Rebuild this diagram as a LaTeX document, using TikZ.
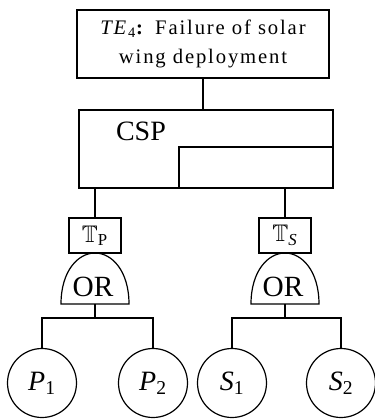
\documentclass[tikz,border=0pt]{standalone}
\usepackage{amssymb}
\usepackage{fontspec}
\setmainfont{Liberation Serif}
\usepackage{tikz}
\tikzset{
  box/.style={draw, line width=0.9pt, inner sep=0pt},
  tbox/.style={box, minimum width=39pt, minimum height=26.25pt, font=\fontsize{18}{20}\selectfont},
  evt/.style={draw, line width=0.9pt, circle, minimum size=51.75pt, inner sep=0pt, font=\fontsize{21}{23}\selectfont},
  orgate/.pic={
    \draw[line width=0.9pt] (-34,51) .. controls (-34,18) and (-17,0) .. (0,0)
      .. controls (17,0) and (34,18) .. (34,51) -- cycle;
    \node[font=\fontsize{22}{24}\selectfont] (-lbl) at (-2,34) {OR};
    \coordinate (-out) at (0,51);
  },
}

\begin{document}
\begin{tikzpicture}[x=0.75pt, y=-0.75pt, line width=0.9pt]
    \useasboundingbox (0,0) rectangle (375,419);
    \node[box, minimum width=189pt, minimum height=51pt, align=center,
      font=\fontsize{15.5}{21.75}\selectfont\addfontfeature{LetterSpace=9}] (te) at (203,44)
      {\textit{TE}\textsubscript{4}\textbf{:}\hspace{0.5em}Failure of solar\\wing deployment};
    \node[box, minimum width=190.5pt, minimum height=58.5pt] (csp) at (206,149) {};
    \node[anchor=base west, font=\fontsize{21}{23}\selectfont] (csplbl) at (111,140) {CSP};
    \node[box, minimum width=115.5pt, minimum height=30.75pt] (cspin) at (256,167.5) {};
    \draw (te.south) -- (te.south |- csp.north);

    \node[tbox] (tp) at (95,235.5) {$\mathbb{T}$\textsubscript{P}};
    \node[tbox] (ts) at (285,235.5) {$\mathbb{T}$\textsubscript{\textit{S}}};
    \draw (tp.north |- csp.south) -- (tp.north);
    \draw (ts.north |- csp.south) -- (ts.north);

    \pic (gp) at (95,253) {orgate};
    \pic (gs) at (285,253) {orgate};

    \node[evt] (p1) at (42,383) {\textit{P}\textsubscript{1}};
    \node[evt] (p2) at (153,383) {\textit{P}\textsubscript{2}};
    \node[evt] (s1) at (232,383) {\textit{S}\textsubscript{1}};
    \node[evt] (s2) at (341,383) {\textit{S}\textsubscript{2}};

    \draw (gp-out) -- ++(0,14) coordinate (barp);
    \draw (p1) |- (barp) -| (p2);
    \draw (gs-out) -- ++(0,14) coordinate (bars);
    \draw (s1) |- (bars) -| (s2);
\end{tikzpicture}
\end{document}
